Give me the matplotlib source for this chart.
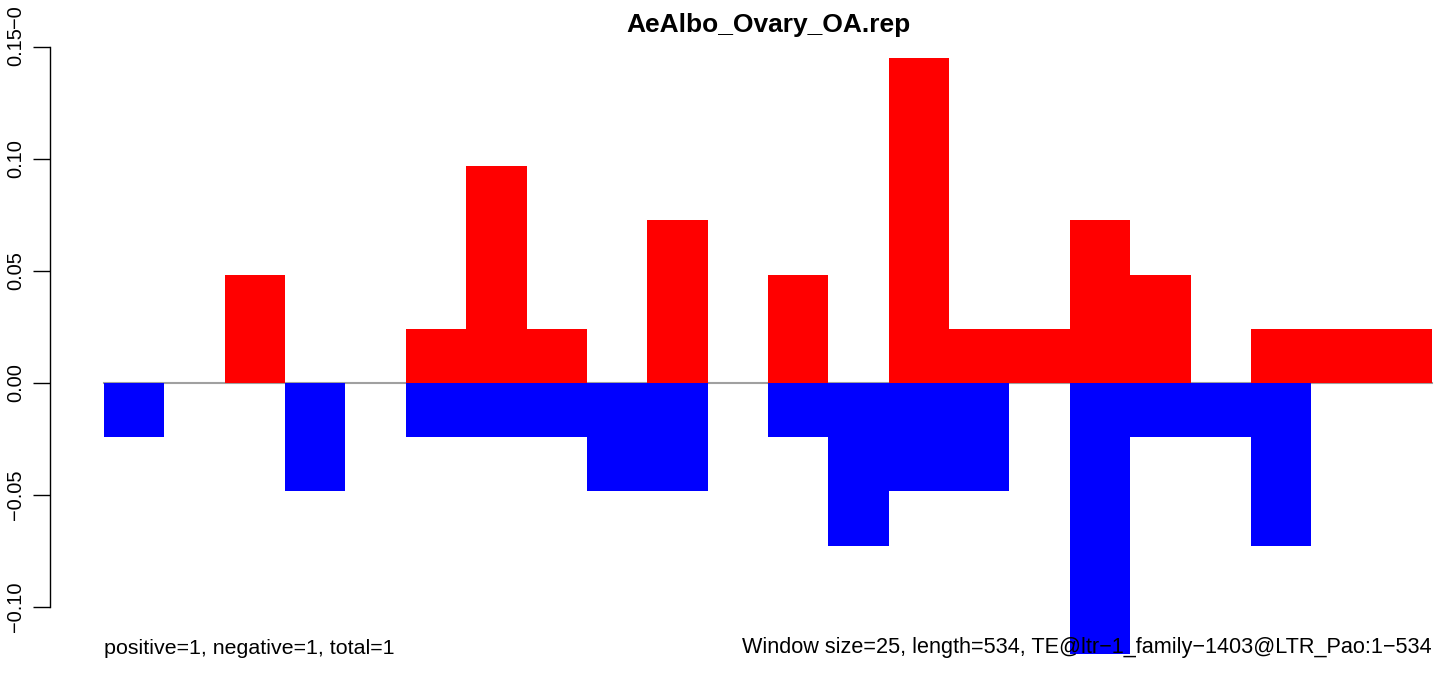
import numpy as np
import matplotlib.pyplot as plt

plt.rcParams['font.family'] = ['Liberation Sans', 'DejaVu Sans']

# datos (una barra por ventana de 25 pb)
unidad = 0.0242
positivos = [0, 0, 2, 0, 0, 1, 4, 1, 0, 3, 0, 2, 0, 6, 1, 1, 3, 2, 0, 1, 1, 1]
negativos = [1, 0, 0, 2, 0, 1, 1, 1, 2, 2, 0, 1, 3, 2, 2, 0, 5, 1, 1, 3, 0, 0]
ventanas = np.arange(len(positivos))
titulo = "AeAlbo_Ovary_OA.rep"
texto_izq = "positive=1, negative=1, total=1"
texto_der = "Window size=25, length=534, TE@ltr\u22121_family\u22121403@LTR_Pao:1\u2212534"
yticks = [-0.10, -0.05, 0.00, 0.05, 0.10, 0.15]

pos = np.array(positivos) * unidad
neg = -np.array(negativos) * unidad

W, H = 1444, 677
fig = plt.figure(figsize=(W / 100, H / 100), dpi=100)
ax = fig.add_axes([50 / W, 0, 1 - 50 / W, 1])

# escala en pixeles: barra = 60.36 px, 0.05 = 112 px, cero en y=383
bw = (1432 - 104) / 22
ax.set_xlim(-(104 - 50) / bw, (W - 104) / bw)
ax.set_ylim(-(H - 383) / 2240, 383 / 2240)

ax.axhline(0, color='#a0a0a0', lw=1.5, xmin=(104 - 50) / (W - 50),
           xmax=(1432 - 50) / (W - 50), zorder=1)
ax.bar(ventanas, pos, width=1, align='edge', color='red', zorder=2)
ax.bar(ventanas, neg, width=1, align='edge', color='blue', zorder=2)

for s in ['top', 'right', 'bottom']:
    ax.spines[s].set_visible(False)
ax.spines['left'].set_bounds(-0.10, 0.15)
ax.spines['left'].set_linewidth(1.0)
ax.set_xticks([])
ax.set_yticks(yticks)
ax.set_yticklabels([f"{v:.2f}".replace('-', '\u2212') for v in yticks],
                   rotation=90, va='center', fontsize=14.4)
ax.tick_params(axis='y', direction='out', length=12, width=1.0, pad=6)

# resto de una etiqueta cortada arriba, como en la original
fig.text(15 / W, 1 - 28 / H, "\u22120", rotation=90, ha='center', va='bottom',
         fontsize=14.4)

fig.text(768 / W, 1 - 25 / H, titulo, ha='center', va='center',
         fontsize=19, fontweight='bold')
ax.text(0, -(648 - 383) / 2240, texto_izq, ha='left', va='center', fontsize=15.4, zorder=5)
ax.text(22, -(648 - 383) / 2240, texto_der, ha='right', va='center', fontsize=15.6, zorder=5)

fig.savefig('out.png', dpi=100)
